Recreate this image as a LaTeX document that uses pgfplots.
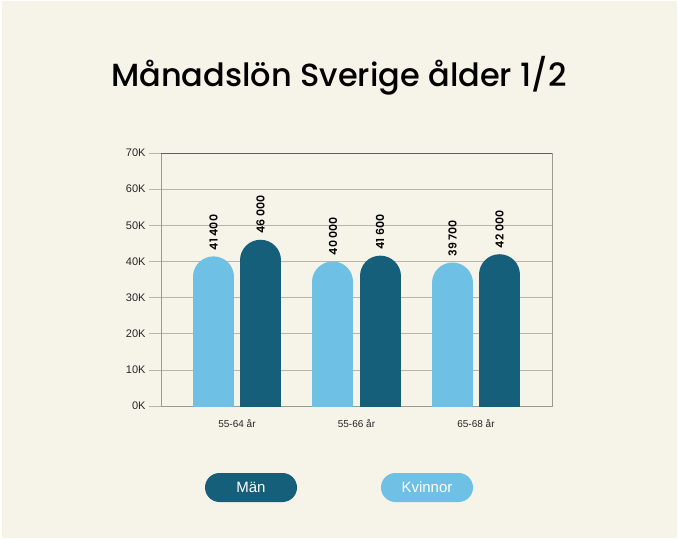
\documentclass[border=0pt]{standalone}
\usepackage{pgfplots}
\pgfplotsset{compat=1.18}
\usepackage{fontspec}
\setmainfont{Liberation Sans}
\newfontfamily\titlefont{Poppins Medium}
\newfontfamily\labelfont{Poppins SemiBold}
\definecolor{bg}{HTML}{F6F3E8}
\definecolor{lightb}{HTML}{6EC1E4}
\definecolor{darkb}{HTML}{155F7B}
\definecolor{gridc}{HTML}{B8B5A9}
\definecolor{topc}{HTML}{606060}
\begin{document}
\begin{tikzpicture}
\fill[white] (0,0) rectangle (678pt,539pt);
\fill[bg] (1.5pt,1.5pt) rectangle (676.5pt,537.5pt);
\node[anchor=base, font=\titlefont\fontsize{32}{38}\selectfont] at (339pt,452pt) {Månadslön Sverige ålder 1/2};
\begin{axis}[
  at={(161pt,133pt)}, anchor=south west,
  scale only axis, width=391pt, height=253pt,
  xmin=-0.636, xmax=2.636, ymin=0, ymax=70000,
  axis line style={draw=gridc!85!black, line width=0.6pt},
  ytick={0,10000,...,70000},
  yticklabels={0K,10K,20K,30K,40K,50K,60K,70K},
  ymajorgrids, grid style={draw=gridc, line width=0.6pt},
  tick align=outside, major tick length=12pt, ytick pos=left,
  ytick style={draw=gridc, line width=0.6pt},
  yticklabel style={font=\fontsize{11}{13}\selectfont, text=black!85},
  xtick={0,1,2}, xticklabels={55-64 år,55-66 år,65-68 år},
  xtick style={draw=none},
  xticklabel style={font=\fontsize{10}{12}\selectfont, text=black!85, yshift=2pt},
  scaled y ticks=false,
  /pgf/number format/assume math mode=true,
  /pgf/number format/1000 sep={\ },
]
% bars: round-capped thick combs, shifted down by half the width so the cap top sits on the value
\addplot[ycomb, draw=lightb, line width=41pt, line cap=round, mark=none, yshift=-20.5pt]
  table {
  x y
  -0.197 41400
  0.803 40000
  1.803 39700
  };
\addplot[ycomb, draw=darkb, line width=41pt, line cap=round, mark=none, yshift=-20.5pt]
  table {
  x y
  0.197 46000
  1.197 41600
  2.197 42000
  };
% value labels
\addplot[draw=none, mark=none, nodes near coords,
  every node near coord/.append style={rotate=90, anchor=west, inner xsep=6pt, inner ysep=0pt,
  font=\labelfont\fontsize{11}{13}\selectfont, text=black}]
  table {
  x y
  -0.197 41400
  0.803 40000
  1.803 39700
  };
\addplot[draw=none, mark=none, nodes near coords,
  every node near coord/.append style={rotate=90, anchor=west, inner xsep=6pt, inner ysep=0pt,
  font=\labelfont\fontsize{11}{13}\selectfont, text=black}]
  table {
  x y
  0.197 46000
  1.197 41600
  2.197 42000
  };
\draw[topc, line width=1.1pt] (rel axis cs:0,1) -- (rel axis cs:1,1);
\end{axis}
\node[fill=darkb, text=white, rounded corners=14.5pt, minimum width=92pt, minimum height=29pt,
  inner sep=0pt, font=\fontsize{15}{18}\selectfont] at (251pt,51.5pt) {Män};
\node[fill=lightb, text=white, rounded corners=14.5pt, minimum width=92pt, minimum height=29pt,
  inner sep=0pt, font=\fontsize{15}{18}\selectfont] at (427pt,51.5pt) {Kvinnor};
\end{tikzpicture}
\end{document}
